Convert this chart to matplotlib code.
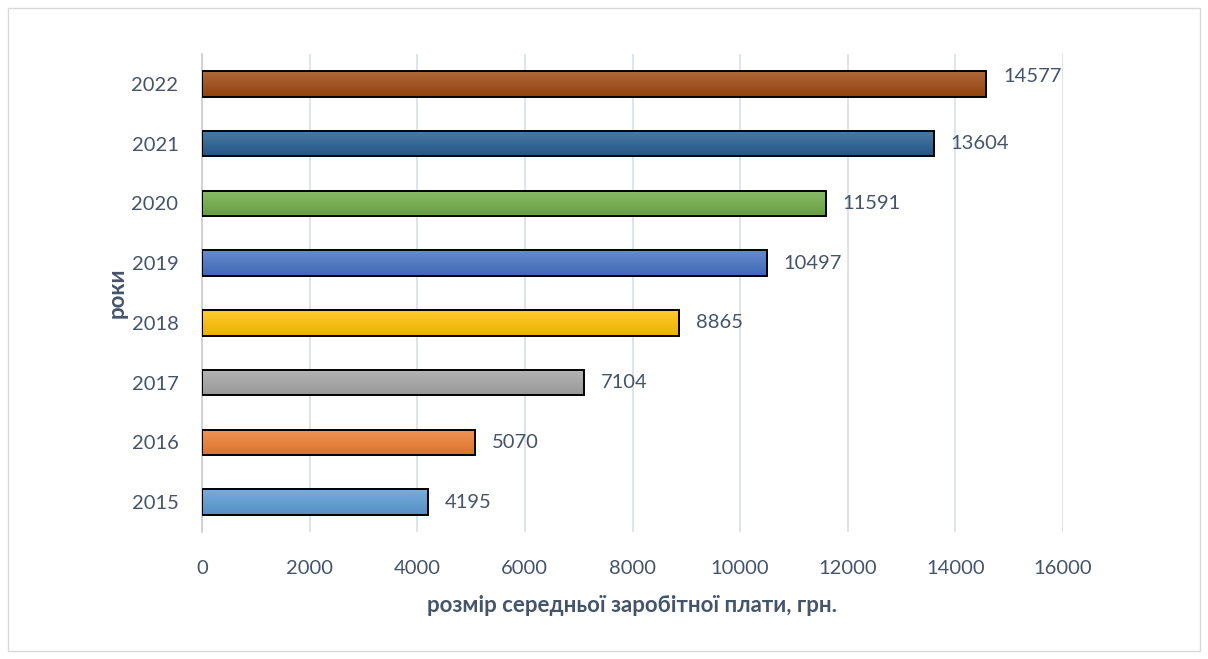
import matplotlib
matplotlib.use("Agg")
import matplotlib.pyplot as plt
from matplotlib.patches import Rectangle
from matplotlib.colors import to_rgb
import numpy as np

years = ["2015", "2016", "2017", "2018", "2019", "2020", "2021", "2022"]
values = [4195, 5070, 7104, 8865, 10497, 11591, 13604, 14577]
bar_colors = ["#5B9BD5", "#ED7D31", "#A5A5A5", "#FFC000", "#4472C4", "#70AD47", "#255E91", "#9E480E"]
x_ticks = [0, 2000, 4000, 6000, 8000, 10000, 12000, 14000, 16000]
x_label = "розмір середньої заробітної плати, грн."
y_label = "роки"

plt.rcParams['font.family'] = ['Lato', 'DejaVu Sans']
text_color = "#44546A"

W, H = 1208, 659
fig = plt.figure(figsize=(W / 100, H / 100), dpi=100)
ax = fig.add_axes([202 / W, 1 - 532 / H, (1063 - 202) / W, (532 - 54) / H])

# outer chart border
fig.patches.append(Rectangle((8 / W, 8 / H), (1200 - 8) / W, (651 - 8) / H,
                             transform=fig.transFigure, fill=False,
                             edgecolor="#D9D9D9", linewidth=1.0))

ypos = np.arange(len(years))
bars = ax.barh(ypos, values, height=0.43, color=bar_colors,
               edgecolor="black", linewidth=1.4, zorder=3)

# vertical gradient inside each bar (lighter on top, darker at bottom)
for b, c in zip(bars, bar_colors):
    base = np.array(to_rgb(c))
    light = base + (1 - base) * 0.18
    dark = base * 0.92
    grad = np.linspace(0, 1, 64)[:, None]
    img = light[None, None, :] * (1 - grad[..., None]) + dark[None, None, :] * grad[..., None]
    img = np.repeat(img, 2, axis=1)
    x0, y0 = b.get_x(), b.get_y()
    w, h = b.get_width(), b.get_height()
    im = ax.imshow(img, extent=[x0, x0 + w, y0, y0 + h], aspect="auto",
                   origin="upper", zorder=3.5, interpolation="bilinear")
    im.set_clip_path(b)
    b.set_facecolor("none")
    b.set_zorder(4)

for i, v in enumerate(values):
    dy = 0.13 if i == len(values) - 1 else 0.0
    ax.annotate(f"{v}", xy=(v, i + dy), xytext=(12, 0), textcoords="offset points",
                ha="left", va="center", fontsize=14.5, color=text_color)

ax.set_xlim(0, 16000)
ax.set_ylim(-0.5, len(years) - 0.5)
ax.set_xticks(x_ticks)
ax.set_xticklabels([str(t) for t in x_ticks])
ax.set_yticks(ypos)
ax.set_yticklabels(years)
ax.tick_params(axis="both", length=0, labelsize=14.5, labelcolor=text_color)
ax.tick_params(axis="x", pad=20)
ax.tick_params(axis="y", pad=17)

ax.grid(axis="x", color="#D9DEE6", linewidth=1.2, zorder=0)
ax.set_axisbelow(True)
for s in ["top", "right", "bottom"]:
    ax.spines[s].set_visible(False)
ax.spines["left"].set_color("#C8CDD4")
ax.spines["left"].set_linewidth(1.2)

ax.set_xlabel(x_label, fontsize=16, fontweight="bold", color=text_color)
ax.xaxis.set_label_coords((632 - 202) / (1063 - 202), -(605 - 532) / (532 - 54))
ax.xaxis.label.set_va("center")
ax.set_ylabel(y_label, fontsize=16, fontweight="bold", color=text_color)
ax.yaxis.set_label_coords(-(202 - 117) / (1063 - 202), 0.5)
ax.yaxis.label.set_va("center")

fig.savefig("out.png", dpi=100)
